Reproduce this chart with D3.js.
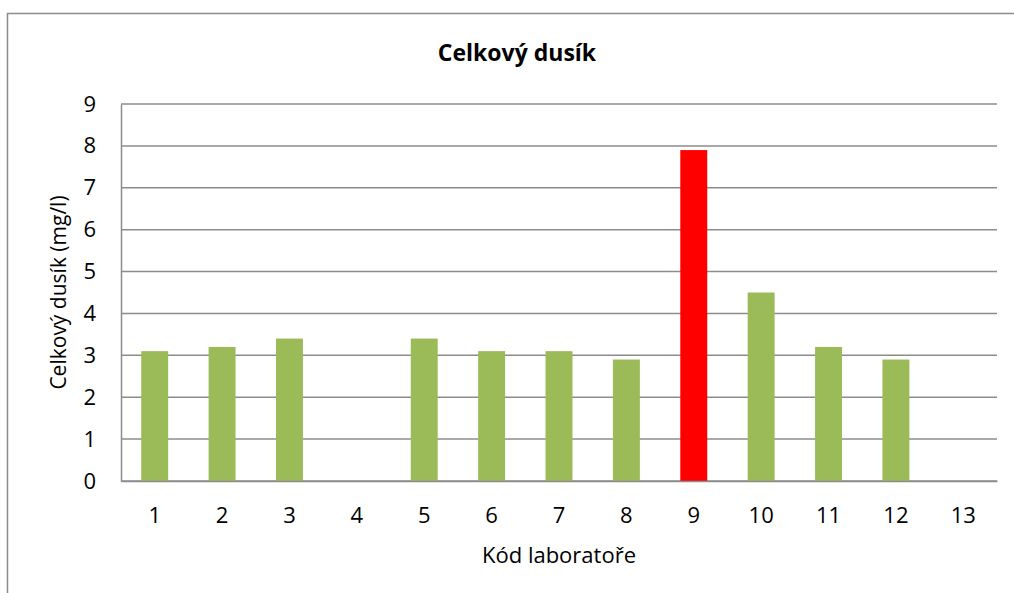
<!DOCTYPE html>
<html>
<head>
<meta charset="utf-8">
<script src="https://cdn.jsdelivr.net/npm/d3@7"></script>
<style>
  body { margin: 0; background: #fff; }
  text { font-family: "Open Sans", "Noto Sans", sans-serif; fill: #000; }
</style>
</head>
<body>
<div id="chart"></div>
<script>
// data
var labs = ["1","2","3","4","5","6","7","8","9","10","11","12","13"];
var values = [3.1, 3.2, 3.4, null, 3.4, 3.1, 3.1, 2.9, 7.9, 4.5, 3.2, 2.9, null];
var highlighted = ["9"];
var yTicks = [0,1,2,3,4,5,6,7,8,9];

var width = 1014, height = 593;
var margin = {top: 104, right: 17, bottom: 112, left: 121};
var w = width - margin.left - margin.right, h = height - margin.top - margin.bottom;

var svg = d3.select("#chart").append("svg")
    .attr("width", width)
    .attr("height", height);

// outer chart frame
svg.append("rect")
    .attr("x", 7.5).attr("y", 13.5)
    .attr("width", width + 20).attr("height", height + 20)
    .attr("fill", "none")
    .attr("stroke", "#8c8c8c")
    .attr("stroke-width", 1.5);

var g = svg.append("g")
    .attr("transform", "translate(" + margin.left + "," + margin.top + ")");

var x = d3.scaleBand().domain(labs).range([0, w]).paddingInner(0.6).paddingOuter(0.3);
var y = d3.scaleLinear().domain([0, 9]).range([h, 0]);

// gridlines
g.selectAll(".grid")
    .data(yTicks)
    .enter()
    .append("line")
    .attr("x1", 0).attr("x2", w)
    .attr("y1", function (d) { return y(d); })
    .attr("y2", function (d) { return y(d); })
    .attr("stroke", "#8c8c8c")
    .attr("stroke-width", 1.5);

// bars
g.selectAll(".bar")
    .data(labs.map(function (l, i) { return {lab: l, v: values[i]}; }).filter(function (d) { return d.v != null; }))
    .enter()
    .append("rect")
    .attr("x", function (d) { return x(d.lab); })
    .attr("width", x.bandwidth())
    .attr("y", function (d) { return y(d.v); })
    .attr("height", function (d) { return h - y(d.v); })
    .attr("fill", function (d) { return highlighted.includes(d.lab) ? "#ff0000" : "#9bbb59"; });

// y axis
var yAxis = g.append("g")
    .call(d3.axisLeft(y).tickValues(yTicks).tickSize(0).tickPadding(25).tickFormat(d3.format("d")));
yAxis.select(".domain").attr("stroke", "#8c8c8c").attr("stroke-width", 1.5);
yAxis.selectAll("text").style("font-size", "22px");

// x axis
var xAxis = g.append("g")
    .attr("transform", "translate(0," + h + ")")
    .call(d3.axisBottom(x).tickSize(0).tickPadding(26));
xAxis.select(".domain").attr("stroke", "#8c8c8c").attr("stroke-width", 1.5);
xAxis.selectAll("text").style("font-size", "22px");

// titles
svg.append("text")
    .attr("x", 517).attr("y", 61)
    .attr("text-anchor", "middle")
    .style("font-size", "23px")
    .style("font-weight", "bold")
    .text("Celkový dusík");

svg.append("text")
    .attr("x", margin.left + w / 2).attr("y", 563)
    .attr("text-anchor", "middle")
    .style("font-size", "22px")
    .text("Kód laboratoře");

svg.append("text")
    .attr("transform", "translate(66," + (margin.top + h / 2) + ") rotate(-90)")
    .attr("text-anchor", "middle")
    .style("font-size", "21px")
    .text("Celkový dusík (mg/l)");
</script>
</body>
</html>
